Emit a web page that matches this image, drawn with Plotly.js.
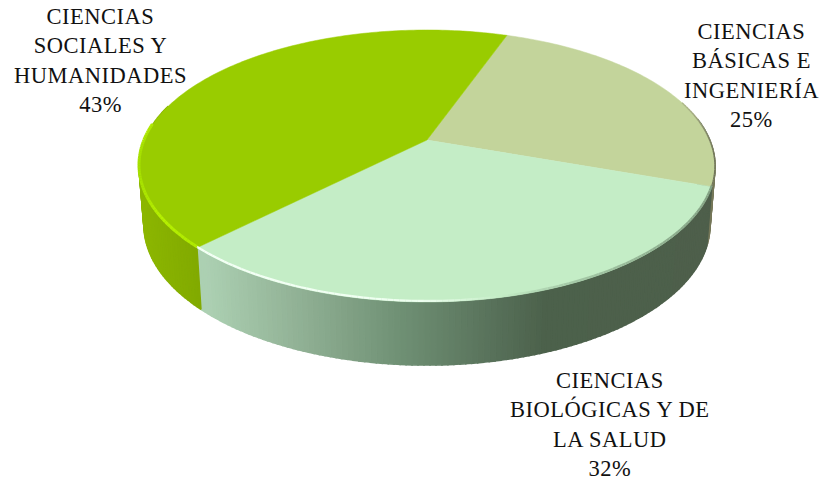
<!DOCTYPE html>
<html><head><meta charset="utf-8">
<script src="https://cdn.plot.ly/plotly-3.0.1.min.js"></script>
<style>html,body{margin:0;padding:0;background:#fff}#c{width:822px;height:483px}
.annotation-text{letter-spacing:0.5px}</style>
</head><body><div id="c"></div>
<script>
const categories = ["CIENCIAS<br>BÁSICAS E<br>INGENIERÍA", "CIENCIAS<br>BIOLÓGICAS Y DE<br>LA SALUD", "CIENCIAS<br>SOCIALES Y<br>HUMANIDADES"];
const values = [25, 32, 43];
const topColors = ["#C3D49B", "#C4EDC6", "#99CC00"];
const labelX = [751, 610, 100];
const labelY = [75.5, 424.5, 60];

const START = 19.5, K = -0.191;
const TOP = {cx: 427, cy: 140, rx: 282.7, ry: 131};
const BOT = {cx: 427, cy: 198.3, rx: 277.8, ry: 134.9};
const STEP = 1;

function proj(p, deg) {
  const t = deg * Math.PI / 180, u = Math.sin(t), v = -Math.cos(t), w = 1 + K * v;
  return [p.cx + p.rx * u / w, p.cy + p.ry * v / w];
}
function hex(c){return [1,3,5].map(i=>parseInt(c.substr(i,2),16));}
function mix(a,b,f){f=Math.max(0,Math.min(1,f));const A=hex(a),B=hex(b);
  return "rgb("+A.map((x,i)=>Math.round(x+(B[i]-x)*f)).join(",")+")";}
function ramp(stops,x){
  if(x<=stops[0][0])return mix(stops[0][1],stops[0][1],0);
  for(let i=1;i<stops.length;i++) if(x<=stops[i][0])
    return mix(stops[i-1][1],stops[i][1],(x-stops[i-1][0])/(stops[i][0]-stops[i-1][0]));
  const l=stops[stops.length-1][1];return mix(l,l,0);
}
const sideRamps = [
  [[600,"#4C614B"],[705,"#4F5F48"],[712,"#76785A"]],
  [[205,"#ACD0B2"],[300,"#90B094"],[400,"#6F9074"],[500,"#566F58"],[545,"#4C614B"],[720,"#4E5F4B"]],
  [[140,"#8CB600"],[205,"#80A800"]]
];
const rimRamps = [
  [[665,"#C3D49B"],[695,"#A0A67E"],[714,"#70745A"]],
  [[205,"#F4FFF6"],[420,"#EEFFF0"],[500,"#C4EDC6"],[560,"#A8CCAA"],[710,"#84A284"]],
  [[138,"#A6E000"],[160,"#B6F000"],[205,"#AEE800"]]
];

const traces = [];
const total = values.reduce((a,b)=>a+b,0);
function add(xs,ys,color,fill,width){
  traces.push({type:"scatter",mode:"lines",x:xs,y:ys,fill:fill?"toself":"none",
    fillcolor:color,line:{color:color,width:width||1.6,simplify:false},
    hoverinfo:"skip",showlegend:false});
}
const spans=[]; let a=START;
values.forEach(v=>{const b=a+v/total*360;spans.push([a,b]);a=b;});

// side wall
spans.forEach((s,i)=>{
  for(let d=s[0];d<s[1];d+=STEP){
    const e=Math.min(d+STEP,s[1]);
    if(d<80||d>285) continue;
    const p1=proj(TOP,d),p2=proj(TOP,e),q1=proj(BOT,d),q2=proj(BOT,e);
    const mx=(p1[0]+p2[0])/2;
    add([p1[0],p2[0],q2[0],q1[0],p1[0]],[p1[1],p2[1],q2[1],q1[1],p1[1]],ramp(sideRamps[i],mx),true);
  }
});
// top faces
spans.forEach((s,i)=>{
  const xs=[TOP.cx],ys=[TOP.cy];
  for(let d=s[0];d<s[1];d+=STEP){const p=proj(TOP,d);xs.push(p[0]);ys.push(p[1]);}
  const end=proj(TOP,s[1]);xs.push(end[0],TOP.cx);ys.push(end[1],TOP.cy);
  add(xs,ys,topColors[i],true,0.5);
});
// bevel on the rim
spans.forEach((s,i)=>{
  for(let d=s[0];d<s[1];d+=STEP){
    const e=Math.min(d+STEP,s[1]);
    if(d>276||d<72) continue;
    const p1=proj(TOP,d),p2=proj(TOP,e),off=i===0?0:1;
    add([p1[0],p2[0]],[p1[1]-off,p2[1]-off],ramp(rimRamps[i],(p1[0]+p2[0])/2),false,i===2?3:(i===0?1.5:2.2));
  }
});

const annotations = categories.map((c,i)=>({
  x:labelX[i],y:labelY[i],xref:"x",yref:"y",showarrow:false,align:"center",
  xanchor:"center",yanchor:"middle",text:c+"<br>"+values[i]+"%",
  font:{family:"Liberation Serif, serif",size:22.5,color:"#111"}
}));

Plotly.newPlot("c",traces,{
  width:822,height:483,margin:{l:0,r:0,t:0,b:0},
  paper_bgcolor:"#fff",plot_bgcolor:"#fff",showlegend:false,
  xaxis:{range:[0,822],visible:false,fixedrange:true},
  yaxis:{range:[483,0],visible:false,fixedrange:true},
  annotations
},{displayModeBar:false,staticPlot:true});
</script></body></html>
